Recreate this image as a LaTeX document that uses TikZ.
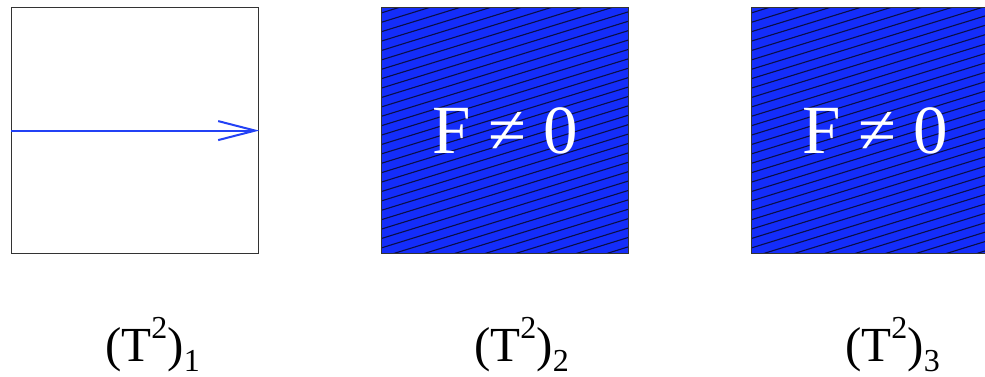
\documentclass[tikz,border=0pt]{standalone}
\usepackage{fontspec}
\setmainfont{Liberation Serif}
\usetikzlibrary{arrows.meta}
\definecolor{fillblue}{RGB}{20,45,250}
\definecolor{arrowblue}{RGB}{35,65,245}
\definecolor{hatchcol}{RGB}{10,15,70}
\newcommand{\tlabel}[1]{\fontsize{49}{58}\selectfont (T\raisebox{23pt}{\fontsize{32}{38}\selectfont 2})\raisebox{-10pt}[\height][0pt]{\fontsize{32}{38}\selectfont #1}}
\tikzset{
  torus/.style={draw=black!80, line width=1.2pt, minimum width=247pt, minimum height=246pt, inner sep=0pt, anchor=north west},
  hatched/.style={fill=fillblue, path picture={
      \foreach \k in {-45,...,45}
        \draw[hatchcol, line width=1.1pt] ([shift={(-170pt,\k*9.4pt)}]path picture bounding box.center) -- ++(340pt,105pt);
    }},
  bigtext/.style={text=white, font=\fontsize{69}{80}\selectfont},
  lbl/.style={anchor=base west, inner sep=0pt},
  flow/.style={draw=arrowblue, line width=2pt, -{Straight Barb[length=37pt,width=19pt,line width=2pt]}}
}
\begin{document}
\begin{tikzpicture}[x=1pt,y=-1pt]
\clip (0,0) rectangle (985,377);
\fill[white] (0,0) rectangle (985,377);
\node[torus] (b1) at (11,7) {};
\node[torus, hatched, bigtext] (b2) at (381,7) {F ≠ 0};
\node[torus, hatched, bigtext] (b3) at (751,7) {F ≠ 0};
\draw[flow] (b1.west) -- (b1.east);
\node[lbl] (l1) at (105,361) {\tlabel{1}};
\node[lbl] (l2) at (474,361) {\tlabel{2}};
\node[lbl] (l3) at (845,361) {\tlabel{3}};
\end{tikzpicture}
\end{document}
